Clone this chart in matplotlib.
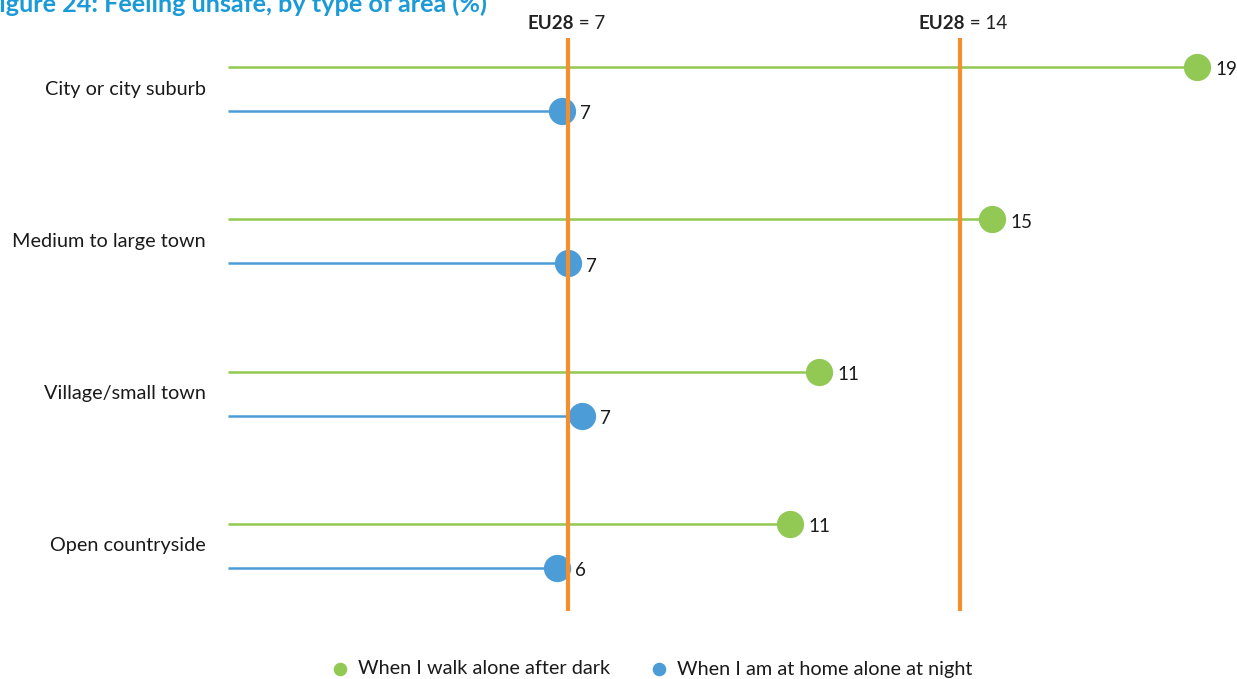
import matplotlib
matplotlib.use("Agg")
import matplotlib.pyplot as plt

categories = ["City or city suburb", "Medium to large town", "Village/small town", "Open countryside"]
walk_values = [19.0, 14.98, 11.59, 11.02]
walk_labels = ["19", "15", "11", "11"]
home_values = [6.55, 6.67, 6.94, 6.45]
home_labels = ["7", "7", "7", "6"]
eu_values = [6.67, 14.35]
eu_labels = ["7", "14"]
series_names = ["When I walk alone after dark", "When I am at home alone at night"]

GREEN = "#92C955"
BLUE = "#4B9CD7"
ORANGE = "#F58E2C"
TITLE_BLUE = "#1B9AD8"
FONT = ["Lato", "DejaVu Sans"]

W, H = 1237, 679
fig = plt.figure(figsize=(W / 100, H / 100), dpi=100)
ax = fig.add_axes([228 / W, 0, 1 - 228 / W, 1])
px = 51.0
ax.set_xlim(0, (W - 228) / px)
c0, sp = 89, 152.3
ax.set_ylim((H - c0) / sp, -c0 / sp)
ax.axis("off")

off = 22 / sp
for i, (wv, hv) in enumerate(zip(walk_values, home_values)):
    yg, yb = i - off, i + off
    ax.plot([0, wv], [yg, yg], color=GREEN, lw=1.8, solid_capstyle="butt", zorder=2)
    ax.plot([0, hv], [yb, yb], color=BLUE, lw=1.8, solid_capstyle="butt", zorder=2)
    ax.scatter([wv], [yg], s=385, color=GREEN, zorder=3, linewidths=0)
    ax.scatter([hv], [yb], s=385, color=BLUE, zorder=3, linewidths=0)
    ax.annotate(walk_labels[i], xy=(wv, yg), xytext=(13, -2), textcoords="offset points",
                va="center", ha="left", fontsize=13.5, family=FONT, color="#1a1a1a")
    ax.annotate(home_labels[i], xy=(hv, yb), xytext=(13, -2), textcoords="offset points",
                va="center", ha="left", fontsize=13.5, family=FONT, color="#1a1a1a")
    fig.text(206 / W, 1 - (c0 + sp * i) / H, categories[i], ha="right", va="center",
             fontsize=14.3, family=FONT, color="#1a1a1a")

ytop, ybot = (38 - c0) / sp, (611 - c0) / sp
for v, lab in zip(eu_values, eu_labels):
    ax.plot([v, v], [ytop, ybot], color=ORANGE, lw=3, solid_capstyle="butt", zorder=4)
    ax.annotate("EU28", xy=(v, ytop), xytext=(4, 4), textcoords="offset points",
                ha="right", va="bottom", fontsize=13.5, fontweight="bold", family=FONT, color="#222222")
    ax.annotate(" = " + lab, xy=(v, ytop), xytext=(4, 4), textcoords="offset points",
                ha="left", va="bottom", fontsize=13.5, family=FONT, color="#222222")

fig.text(-0.012, 1 - 12 / H, "Figure 24: Feeling unsafe, by type of area (%)", ha="left", va="baseline",
         fontsize=18.2, fontweight="bold", family=FONT, color=TITLE_BLUE)

# legend
lax = fig.add_axes([0, 0, 1, 1], facecolor="none")
lax.set_xlim(0, W)
lax.set_ylim(H, 0)
lax.axis("off")
for xx, col, name in [(340, GREEN, series_names[0]), (659, BLUE, series_names[1])]:
    lax.scatter([xx], [669], s=95, color=col, linewidths=0)
    lax.text(xx + 18, 669, name, ha="left", va="center", fontsize=14.3, family=FONT, color="#1a1a1a")

fig.savefig("out.png", dpi=100)
